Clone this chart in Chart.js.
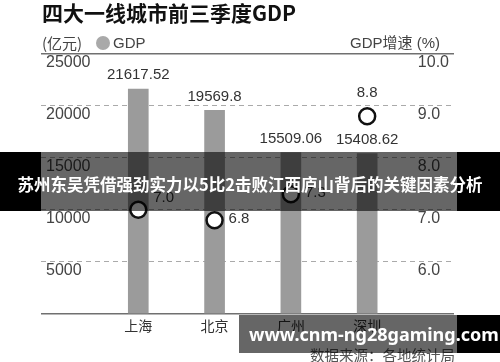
<!DOCTYPE html>
<html>
<head>
<meta charset="utf-8">
<script src="https://cdn.jsdelivr.net/npm/chart.js@4.4.0/dist/chart.umd.min.js"></script>
<style>
  body { margin: 0; background: #fff; }
  #wrap { position: relative; width: 500px; height: 362px; overflow: hidden; font-family: "Liberation Sans", "Noto Sans CJK SC", sans-serif; }
  #chart { position: absolute; left: 0; top: 0; }
  .txt { position: absolute; white-space: nowrap; }
  #title { left: 42px; top: -1px; font: bold 21px "Noto Sans CJK SC", sans-serif; color: #111; line-height: 26px; }
  #unit { left: 42px; top: 33px; font: 15px "Noto Sans CJK SC", sans-serif; color: #444; line-height: 20px; }
  #dot { position: absolute; left: 96px; top: 36px; width: 14px; height: 14px; border-radius: 50%; background: #a9a9a9; }
  #legGdp { left: 113px; top: 34px; font-size: 15px; color: #444; line-height: 18px; }
  #unitR { right: 60px; top: 33px; font: 15px "Liberation Sans", "Noto Sans CJK SC", sans-serif; color: #444; line-height: 20px; }
  #source { left: 310px; top: 345px; font: 14.5px "Noto Sans CJK SC", sans-serif; color: #555; line-height: 20px; }
  #band1 { position: absolute; left: 0; top: 152px; width: 500px; height: 59px;
    background: linear-gradient(to right, #000 0, #000 41px, rgba(0,0,0,0.6) 41px, rgba(0,0,0,0.6) 457px, #000 457px);
    color: #fff; font: bold 16.5px "Noto Sans CJK SC", sans-serif; text-align: center; line-height: 59px; padding-top: 3px; box-sizing: border-box; }
  #band2 { position: absolute; left: 239px; top: 315px; width: 261px; height: 38px;
    background: linear-gradient(to right, rgba(0,0,0,0.6) 0, rgba(0,0,0,0.6) 218px, #000 218px);
    color: #fff; font: bold 18px "Noto Sans", sans-serif; line-height: 38px; padding-left: 10px; box-sizing: border-box; }
</style>
</head>
<body>
<div id="wrap">
  <canvas id="chart" width="500" height="362"></canvas>
  <div class="txt" id="title">四大一线城市前三季度GDP</div>
  <div class="txt" id="unit">(亿元)</div>
  <div id="dot"></div>
  <div class="txt" id="legGdp">GDP</div>
  <div class="txt" id="unitR">GDP增速 (%)</div>
  <div class="txt" id="source">数据来源：各地统计局</div>
  <div id="band1">苏州东吴凭借强劲实力以5比2击败江西庐山背后的关键因素分析</div>
  <div id="band2">www.cnm-ng28gaming.com</div>
</div>
<script>
// data
const cities = ["上海", "北京", "广州", "深圳"]
const gdp = [21617.52, 19569.8, 15509.06, 15408.62]
const growth = [7.0, 6.8, 7.3, 8.8]
const gdpTicks = [0, 5000, 10000, 15000, 20000, 25000]
const growthTicks = [5, 6, 7, 8, 9, 10]
// where each growth label sits next to its circle
const growthLabelSide = ["ne", "e", "e", "n"]

const numFont = "15px 'Liberation Sans', sans-serif"

const valueLabels = {
  id: "valueLabels",
  afterDatasetsDraw(chart) {
    const ctx = chart.ctx
    ctx.save()
    ctx.font = numFont
    ctx.fillStyle = "#333"
    ctx.textBaseline = "middle"
    // bar values
    chart.getDatasetMeta(1).data.forEach((bar, i) => {
      ctx.textAlign = "center"
      ctx.fillText(String(gdp[i]), bar.x, bar.y - 14)
    })
    // growth values
    chart.getDatasetMeta(0).data.forEach((pt, i) => {
      let side = growthLabelSide[i]
      let txt = growth[i].toFixed(1)
      if (side == "n") {
        ctx.textAlign = "center"
        ctx.fillText(txt, pt.x, pt.y - 23)
      } else if (side == "ne") {
        ctx.textAlign = "left"
        ctx.fillText(txt, pt.x + 15, pt.y - 12)
      } else {
        ctx.textAlign = "left"
        ctx.fillText(txt, pt.x + 14, pt.y - 1)
      }
    })
    ctx.restore()
  }
}

new Chart("chart", {
  type: "bar",
  data: {
    datasets: [
      {
        type: "line",
        data: cities.map((c, i) => ({ x: i, y: growth[i] })),
        yAxisID: "y1",
        showLine: false,
        pointRadius: 8,
        pointBorderWidth: 2.5,
        pointBackgroundColor: "#fff",
        pointBorderColor: "#111",
        order: 0
      },
      {
        type: "bar",
        data: cities.map((c, i) => ({ x: i, y: gdp[i] })),
        yAxisID: "y",
        backgroundColor: "#9b9b9b",
        barThickness: 20,
        order: 1
      }
    ]
  },
  options: {
    responsive: false,
    animation: false,
    layout: { padding: { left: 31, right: 46, top: 54, bottom: 23.5 } },
    plugins: { legend: { display: false }, tooltip: { enabled: false } },
    scales: {
      x: {
        type: "linear",
        offset: false,
        min: -1.275,
        max: 4.138,
        grid: { display: false, drawTicks: false },
        border: { display: false },
        ticks: {
          stepSize: 1,
          autoSkip: false,
          maxRotation: 0,
          padding: 4,
          color: "#333",
          font: { family: "'Noto Sans CJK SC', sans-serif", size: 14 },
          callback: v => (Number.isInteger(v) && cities[v]) ? cities[v] : ""
        }
      },
      y: {
        position: "left",
        min: gdpTicks[0],
        max: gdpTicks[gdpTicks.length - 1],
        afterBuildTicks: s => { s.ticks = gdpTicks.map(v => ({ value: v })) },
        ticks: {
          mirror: true,
          padding: 5,
          labelOffset: 9,
          color: "#444",
          font: { family: "'Liberation Sans', sans-serif", size: 16 },
          callback: v => v == 0 ? "" : String(v)
        },
        grid: {
          drawTicks: false,
          lineWidth: 1,
          color: c => (c.tick && (c.tick.value == 0 || c.tick.value == 25000)) ? "transparent" : "#aaa"
        },
        border: { display: false, dash: [5, 4] }
      },
      y1: {
        position: "right",
        min: growthTicks[0],
        max: growthTicks[growthTicks.length - 1],
        afterBuildTicks: s => { s.ticks = growthTicks.map(v => ({ value: v })) },
        ticks: {
          mirror: true,
          crossAlign: "far",
          padding: -5,
          labelOffset: 9,
          color: "#444",
          font: { family: "'Liberation Sans', sans-serif", size: 16 },
          callback: v => v == 5 ? "" : v.toFixed(1)
        },
        grid: {
          drawTicks: false,
          lineWidth: 1.5,
          color: c => (c.tick && (c.tick.value == 5 || c.tick.value == 10)) ? "#707070" : "transparent"
        },
        border: { display: false }
      }
    }
  },
  plugins: [valueLabels]
})
</script>
</body>
</html>
